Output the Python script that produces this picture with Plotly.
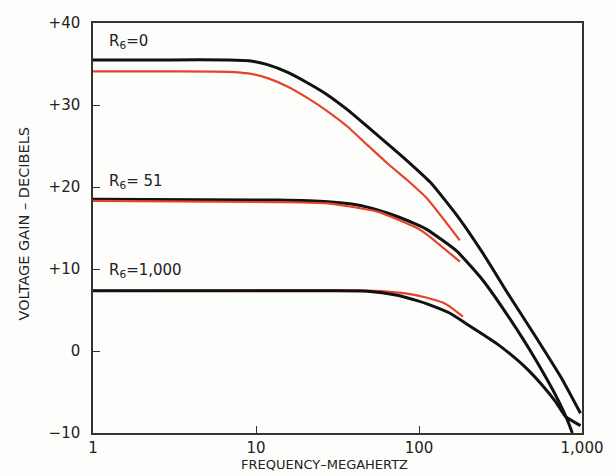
import plotly.graph_objects as go

# ---- data ----
freq_r0_black = [1, 3, 6.8, 9.0, 11.9, 15.8, 20.9, 27.6, 36.5, 48.3, 63.9, 84.6, 117,
                 170, 247, 359, 521, 758, 979]
gain_r0_black = [35.5, 35.5, 35.5, 35.4, 34.9, 33.95, 32.65, 31.2, 29.4, 27.35, 25.3, 23.2, 20.6,
                 16.6, 11.9, 6.7, 1.7, -3.5, -7.6]

freq_r0_red = [1, 3, 6.8, 9.0, 11.9, 15.8, 20.9, 27.6, 36.5, 48.3, 63.9, 84.6, 112, 178]
gain_r0_red = [34.1, 34.1, 34.05, 33.85, 33.25, 32.2, 30.8, 29.2, 27.35, 25.1, 22.9, 20.85, 18.6, 13.5]

freq_r51_black = [1, 13.7, 27.6, 42, 55.6, 73.5, 97.2, 112, 170, 247, 359, 521, 723, 813, 872]
gain_r51_black = [18.5, 18.4, 18.2, 17.8, 17.2, 16.4, 15.4, 14.8, 12.2, 8.6, 4.0, -1.1, -6.2, -8.4, -10]

freq_r51_red = [1, 13.7, 27.6, 55.6, 97.2, 112, 178]
gain_r51_red = [18.3, 18.15, 18.0, 17.0, 15.0, 14.2, 10.9]

freq_r1000_black = [1, 27.6, 48.3, 73.5, 97.2, 112, 155, 196, 247, 300, 359, 450, 572, 690, 794, 979]
gain_r1000_black = [7.35, 7.35, 7.3, 6.8, 6.15, 5.75, 4.6, 3.3, 2.0, 0.9, -0.3, -2.0, -4.2, -6.2, -8.0, -9.1]

freq_r1000_red = [1, 27.6, 42, 63.9, 84.6, 112, 140, 160, 186]
gain_r1000_red = [7.35, 7.4, 7.4, 7.25, 7.0, 6.5, 5.9, 5.2, 4.2]

x_tickvals = [1, 10, 100, 1000]
x_ticktext = ["1", "10", "100", "1,000"]
y_tickvals = [40, 30, 20, 10, 0, -10]
y_ticktext = ["+40", "+30", "+20", "+10", "0", "\u221210"]

curve_labels = ["R<sub>6</sub>=0", "R<sub>6</sub>= 51", "R<sub>6</sub>=1,000"]
curve_label_gain = [37.7, 20.7, 9.8]

BLACK = "#111111"
RED = "#e5432b"
FONT = "DejaVu Sans"

fig = go.Figure()

def add(x, y, color, width):
    fig.add_trace(go.Scatter(x=x, y=y, mode="lines",
                             line=dict(color=color, width=width, shape="spline", smoothing=0.5),
                             showlegend=False, hoverinfo="skip"))

add(freq_r0_black, gain_r0_black, BLACK, 3)
add(freq_r0_red, gain_r0_red, RED, 2.2)
add(freq_r51_black, gain_r51_black, BLACK, 3)
add(freq_r51_red, gain_r51_red, RED, 2.2)
add(freq_r1000_red, gain_r1000_red, RED, 2.2)
add(freq_r1000_black, gain_r1000_black, BLACK, 3)

for txt, g in zip(curve_labels, curve_label_gain):
    fig.add_annotation(x=0.028, xref="paper", y=g, yref="y", text=txt, showarrow=False,
                       xanchor="left", yanchor="middle",
                       font=dict(family=FONT, size=15, color="#222"))

fig.add_annotation(x=0.473, xref="paper", y=-0.078, yref="paper",
                   text="FREQUENCY\u2013MEGAHERTZ", showarrow=False,
                   xanchor="center", yanchor="middle",
                   font=dict(family=FONT, size=13, color="#222"))
fig.add_annotation(x=-0.142, xref="paper", y=0.51, yref="paper",
                   text="VOLTAGE GAIN \u2013 DECIBELS", showarrow=False, textangle=-90,
                   xanchor="center", yanchor="middle",
                   font=dict(family=FONT, size=14.5, color="#222"))

fig.update_xaxes(type="log", range=[0, 3], tickvals=x_tickvals, ticktext=x_ticktext,
                 ticks="inside", ticklen=7, tickwidth=1.2, tickcolor="#333",
                 showgrid=False, zeroline=False, showline=True, linecolor="#333",
                 linewidth=1.5, mirror=True, ticklabeloverflow="allow",
                 tickfont=dict(family=FONT, size=15, color="#222"))
fig.update_yaxes(range=[-10, 40], tickvals=y_tickvals, ticktext=y_ticktext,
                 ticks="inside", ticklen=7, tickwidth=1.2, tickcolor="#333",
                 showgrid=False, zeroline=False, showline=True, linecolor="#333",
                 linewidth=1.5, mirror=True, ticklabelstandoff=8,
                 tickfont=dict(family=FONT, size=15, color="#222"))

fig.update_layout(width=615, height=476,
                  margin=dict(l=93, r=29, t=23, b=43),
                  paper_bgcolor="#fdfdfb", plot_bgcolor="#fdfdfb")

# remove the browser's default 8px body margin so the figure fills the window exactly
fig.write_html("out.html", config={"displayModeBar": False},
               post_script="document.body.style.margin='0';document.body.style.overflow='hidden';")
